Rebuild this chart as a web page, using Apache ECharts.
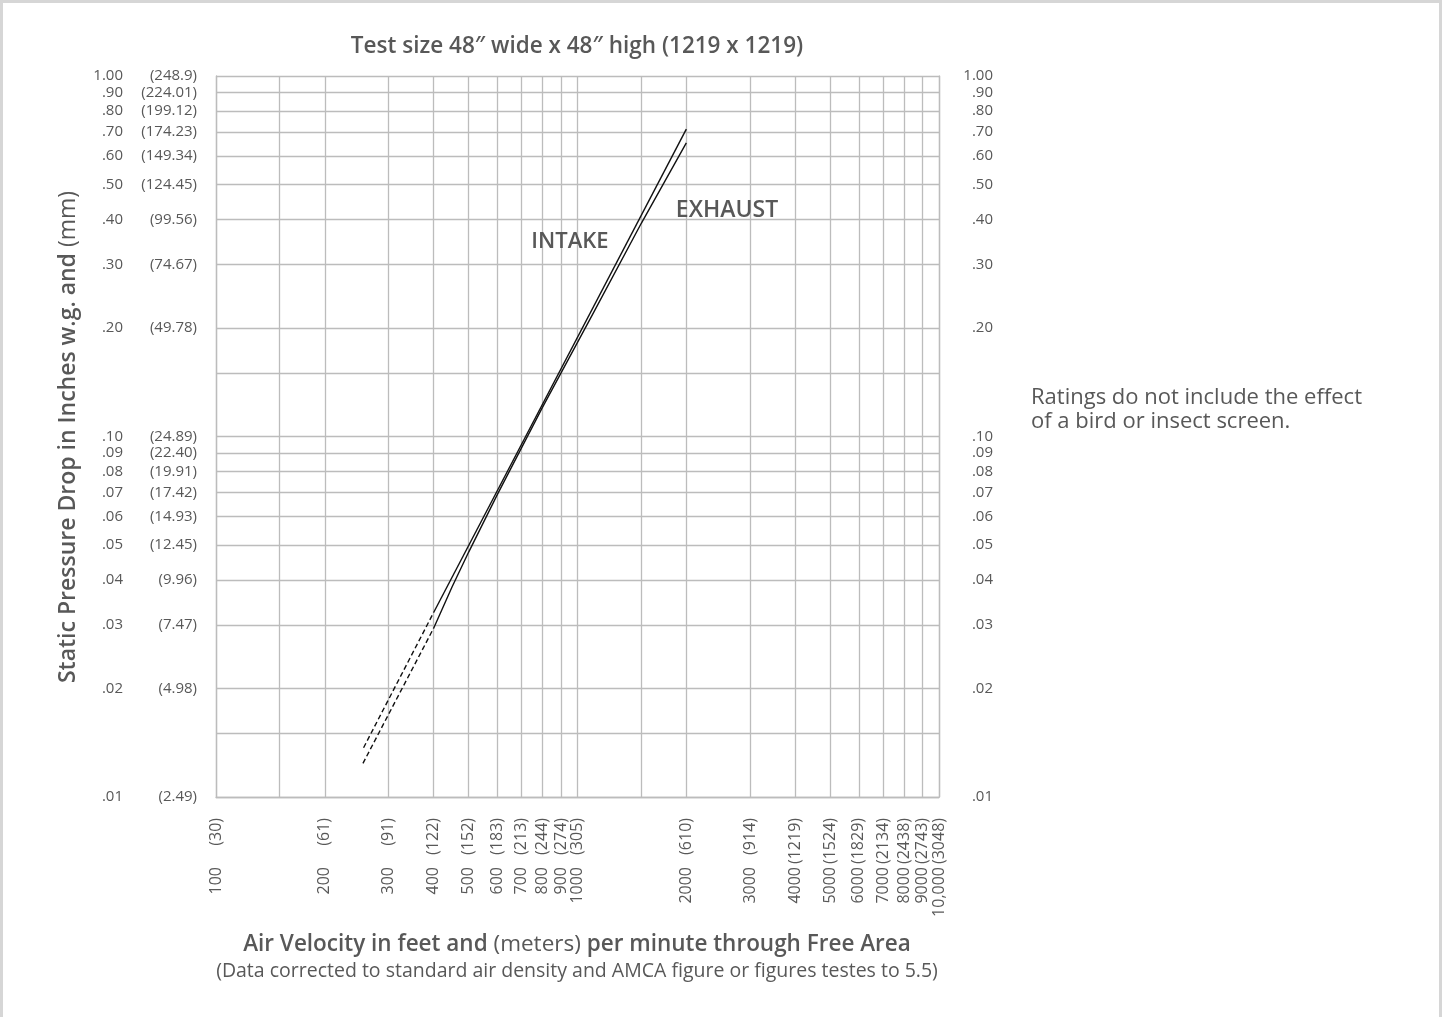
<!DOCTYPE html>
<html><head><meta charset="utf-8">
<script src="https://cdn.jsdelivr.net/npm/echarts@6/dist/echarts.min.js"></script>
<style>html,body{margin:0;padding:0;background:#fff}#c{width:1442px;height:1017px}</style>
</head><body><div id="c"></div>
<script>
// ---- data ----
const xTickValues = [100,200,300,400,500,600,700,800,900,1000,2000,3000,4000,5000,6000,7000,8000,9000,10000];
const xFeetLabels = ['100','200','300','400','500','600','700','800','900','1000','2000','3000','4000','5000','6000','7000','8000','9000','10,000'];
const xMeterLabels = ['(30)','(61)','(91)','(122)','(152)','(183)','(213)','(244)','(274)','(305)','(610)','(914)','(1219)','(1524)','(1829)','(2134)','(2438)','(2743)','(3048)'];
const xGridValues = [100,150,200,300,400,500,600,700,800,900,1000,1500,2000,3000,4000,5000,6000,7000,8000,9000,10000];

const yTickValues = [0.01,0.02,0.03,0.04,0.05,0.06,0.07,0.08,0.09,0.1,0.2,0.3,0.4,0.5,0.6,0.7,0.8,0.9,1.0];
const yInchLabels = ['.01','.02','.03','.04','.05','.06','.07','.08','.09','.10','.20','.30','.40','.50','.60','.70','.80','.90','1.00'];
const yMmLabels = ['(2.49)','(4.98)','(7.47)','(9.96)','(12.45)','(14.93)','(17.42)','(19.91)','(22.40)','(24.89)','(49.78)','(74.67)','(99.56)','(124.45)','(149.34)','(174.23)','(199.12)','(224.01)','(248.9)'];
const yGridValues = [0.01,0.015,0.02,0.03,0.04,0.05,0.06,0.07,0.08,0.09,0.1,0.15,0.2,0.3,0.4,0.5,0.6,0.7,0.8,0.9,1.0];

const intakeSolid = [[400,0.0325],[2000,0.712]];
const intakeDashed = [[256,0.0137],[400,0.0325]];
const exhaustSolid = [[400,0.0294],[450,0.0383],[500,0.0478],[600,0.0690],[800,0.1204],[1100,0.2178],[1500,0.3897],[2000,0.652]];
const exhaustDashed = [[255,0.0124],[400,0.0294]];

const intakeLabelPos = [953,0.346];
const exhaustLabelPos = [2592,0.425];

// ---- chart ----
const FONT = '"Open Sans", "Noto Sans", sans-serif';
const TXT = '#585858';
const GRID = '#bcbcbc';

function lookup(values, labels){
  return function(v){
    let best=-1, bd=Infinity;
    values.forEach(function(t,i){ const d=Math.abs(Math.log(v/t)); if(d<bd){bd=d;best=i;} });
    return bd<0.01 ? labels[best] : '';
  };
}
const lblY = {fontFamily: FONT, fontSize: 15, color: TXT};
const lblX = {fontFamily: FONT, fontSize: 16, color: TXT};

const chart = echarts.init(document.getElementById('c'), null, {renderer:'canvas'});
chart.setOption({
  animation: false,
  backgroundColor: '#fff',
  grid: {left: 216, right: 503, top: 76, bottom: 220, containLabel: false},
  xAxis: [
    {type:'log', logBase:10, min:100, max:10000, position:'bottom',
     axisLine:{show:true, lineStyle:{color:GRID, width:1.3}},
     axisTick:{show:false, customValues:xGridValues},
     splitLine:{show:true, lineStyle:{color:GRID, width:1.3}},
     axisLabel:Object.assign({customValues:xTickValues, rotate:90, margin:21, formatter:lookup(xTickValues,xMeterLabels)}, lblX)},
    {type:'log', logBase:10, min:100, max:10000, position:'bottom',
     axisLine:{show:false}, axisTick:{show:false, customValues:xTickValues}, splitLine:{show:false},
     axisLabel:Object.assign({customValues:xTickValues, rotate:90, margin:70, formatter:lookup(xTickValues,xFeetLabels)}, lblX)}
  ],
  yAxis: [
    {type:'log', logBase:10, min:0.01, max:1, position:'left',
     axisLine:{show:true, lineStyle:{color:GRID, width:1.3}},
     axisTick:{show:false, customValues:yGridValues},
     splitLine:{show:true, lineStyle:{color:GRID, width:1.3}},
     axisLabel:Object.assign({customValues:yTickValues, margin:19, formatter:lookup(yTickValues,yMmLabels)}, lblY)},
    {type:'log', logBase:10, min:0.01, max:1, position:'left',
     axisLine:{show:false}, axisTick:{show:false, customValues:yTickValues}, splitLine:{show:false},
     axisLabel:Object.assign({customValues:yTickValues, margin:93, formatter:lookup(yTickValues,yInchLabels)}, lblY)},
    {type:'log', logBase:10, min:0.01, max:1, position:'right',
     axisLine:{show:true, lineStyle:{color:GRID, width:1.3}}, axisTick:{show:false, customValues:yTickValues}, splitLine:{show:false},
     axisLabel:Object.assign({customValues:yTickValues, margin:54, align:'right', formatter:lookup(yTickValues,yInchLabels)}, lblY)}
  ],
  series: [
    {name:'INTAKE', type:'line', xAxisIndex:0, yAxisIndex:0, data:intakeSolid, symbol:'none', silent:true,
     lineStyle:{color:'#111', width:1.4},
     markPoint:{symbol:'rect', symbolSize:1, itemStyle:{color:'rgba(0,0,0,0)'}, silent:true,
       label:{show:true, position:'inside', formatter:'INTAKE', fontFamily:FONT, fontSize:22, fontWeight:600, color:TXT},
       data:[{coord:intakeLabelPos}]}},
    {name:'INTAKE (extrapolated)', type:'line', xAxisIndex:0, yAxisIndex:0, data:intakeDashed, symbol:'none', silent:true,
     lineStyle:{color:'#111', width:1.4, type:[5,3]}},
    {name:'EXHAUST', type:'line', xAxisIndex:0, yAxisIndex:0, data:exhaustSolid, symbol:'none', silent:true,
     lineStyle:{color:'#111', width:1.4},
     markPoint:{symbol:'rect', symbolSize:1, itemStyle:{color:'rgba(0,0,0,0)'}, silent:true,
       label:{show:true, position:'inside', formatter:'EXHAUST', fontFamily:FONT, fontSize:23, fontWeight:600, color:TXT},
       data:[{coord:exhaustLabelPos}]}},
    {name:'EXHAUST (extrapolated)', type:'line', xAxisIndex:0, yAxisIndex:0, data:exhaustDashed, symbol:'none', silent:true,
     lineStyle:{color:'#111', width:1.4, type:[5,3]}}
  ],
  graphic: [
    {type:'rect', silent:true, shape:{x:1.5, y:1.5, width:1439, height:1100},
     style:{fill:'none', stroke:'#d6d6d6', lineWidth:3}},
    {type:'text', x:577, y:47, silent:true,
     style:{text:'Test size 48\u2033 wide x 48\u2033 high (1219 x 1219)', fontFamily:FONT, fontSize:22.5, fontWeight:600, fill:TXT, textAlign:'center', textVerticalAlign:'middle'}},
    {type:'text', x:68, y:437, rotation:Math.PI/2, silent:true,
     style:{text:'{b|Static Pressure Drop in Inches w.g. and }{n|(mm)}', textAlign:'center', textVerticalAlign:'middle',
       rich:{b:{fontFamily:FONT, fontSize:23, fontWeight:600, fill:TXT, color:TXT}, n:{fontFamily:FONT, fontSize:23, fontWeight:400, fill:TXT, color:TXT}}}},
    {type:'text', x:577, y:945, silent:true,
     style:{text:'{b|Air Velocity in feet and }{n|(meters)}{b| per minute through Free Area}', textAlign:'center', textVerticalAlign:'middle',
       rich:{b:{fontFamily:FONT, fontSize:22.5, fontWeight:600, fill:TXT, color:TXT}, n:{fontFamily:FONT, fontSize:22.5, fontWeight:400, fill:TXT, color:TXT}}}},
    {type:'text', x:577, y:971, silent:true,
     style:{text:'(Data corrected to standard air density and AMCA figure or figures testes to 5.5)', fontFamily:FONT, fontSize:19.5, fill:TXT, textAlign:'center', textVerticalAlign:'middle'}},
    {type:'text', x:1031, y:410, silent:true,
     style:{text:'Ratings do not include the effect\nof a bird or insect screen.', fontFamily:FONT, fontSize:22, lineHeight:24, fill:TXT, textAlign:'left', textVerticalAlign:'middle'}}
  ]
});
</script></body></html>
